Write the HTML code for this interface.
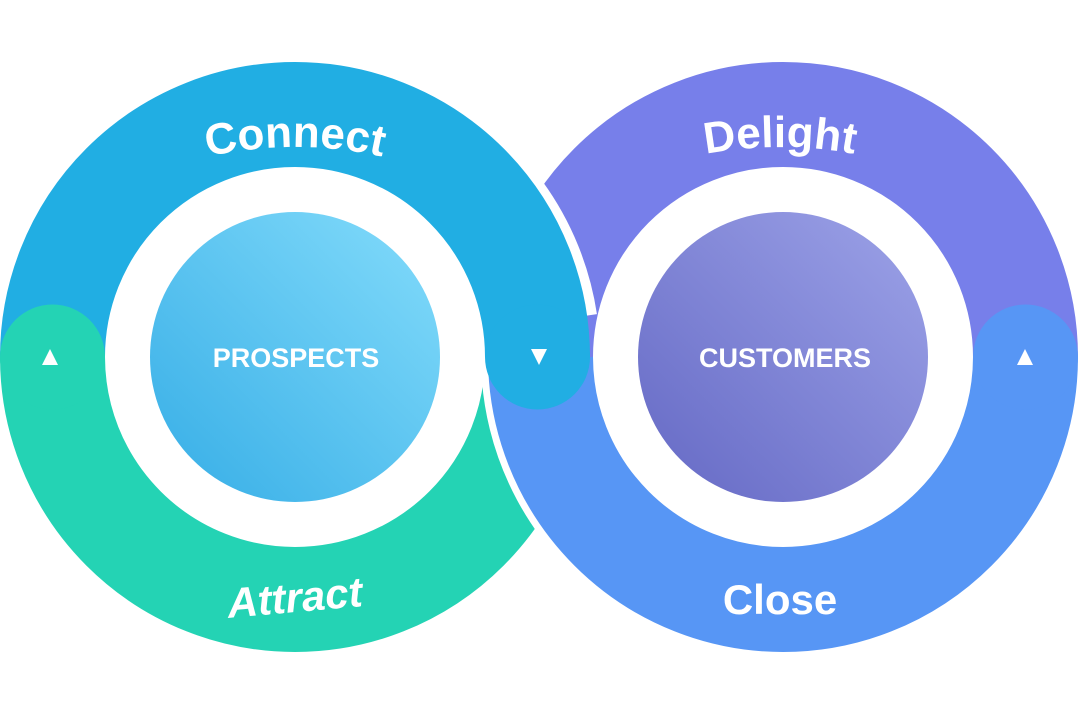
<!DOCTYPE html>
<html><head><meta charset="utf-8"><style>
html,body{margin:0;padding:0;background:#fff;width:1080px;height:720px;overflow:hidden}
svg{display:block}
text{font-family:"Liberation Sans",sans-serif;font-weight:bold;fill:#fff}
</style></head><body>
<svg width="1080" height="720" viewBox="0 0 1080 720">
<defs>
<linearGradient id="gl" x1="1" y1="0" x2="0" y2="1">
<stop offset="0" stop-color="#84dcfb"/><stop offset="1" stop-color="#35ade6"/>
</linearGradient>
<linearGradient id="gr" x1="1" y1="0" x2="0" y2="1">
<stop offset="0" stop-color="#9da3e8"/><stop offset="1" stop-color="#6468c4"/>
</linearGradient>
<path id="pConn" d="M -5 282.4 A 400 400 0 0 1 595 282.4"/>
<path id="pDel" d="M 480 282.4 A 400 400 0 0 1 1080 282.4"/>
</defs>
<path d="M 540.5 357 A 242.5 242.5 0 0 1 1025.5 357" fill="none" stroke="#777fea" stroke-width="105"/>
<path d="M 52.5 357 A 242.5 242.5 0 0 0 537.5 357" fill="none" stroke="#24d3b4" stroke-width="105"/>
<circle cx="52.5" cy="357" r="52.5" fill="#24d3b4"/>
<path d="M 487 357 A 296 296 0 0 0 620 604" fill="none" stroke="#fff" stroke-width="12"/>
<path d="M 540.5 357 A 242.5 242.5 0 0 0 1025.5 357" fill="none" stroke="#5796f5" stroke-width="105"/>
<circle cx="1025.5" cy="357" r="52.5" fill="#5796f5"/>
<path d="M 430 94 A 296 296 0 0 1 591 315" fill="none" stroke="#fff" stroke-width="12"/>
<path d="M 52.5 357 A 242.5 242.5 0 0 1 537.5 357" fill="none" stroke="#21aee3" stroke-width="105"/>
<circle cx="537.5" cy="357" r="52.5" fill="#21aee3"/>
<circle cx="52.5" cy="357" r="52.5" fill="#24d3b4"/>
<circle cx="295" cy="357" r="145" fill="url(#gl)"/>
<circle cx="783" cy="357" r="145" fill="url(#gr)"/>
<polygon points="50,349 58,365 42,365" fill="#fff"/>
<polygon points="531,349 547,349 539,365" fill="#fff"/>
<polygon points="1025,349 1033,365 1017,365" fill="#fff"/>
<text font-size="44" text-anchor="middle"><textPath href="#pConn" startOffset="50%">Connect</textPath></text>
<text font-size="44" text-anchor="middle"><textPath href="#pDel" startOffset="50%">Delight</textPath></text>
<text x="295" y="612" font-size="42" text-anchor="middle" font-style="italic" transform="rotate(-5 295 600)">Attract</text>
<text x="780" y="614" font-size="42" text-anchor="middle">Close</text>
<text x="296" y="367" font-size="27" text-anchor="middle">PROSPECTS</text>
<text x="785" y="367" font-size="27" text-anchor="middle">CUSTOMERS</text>
</svg>
</body></html>
